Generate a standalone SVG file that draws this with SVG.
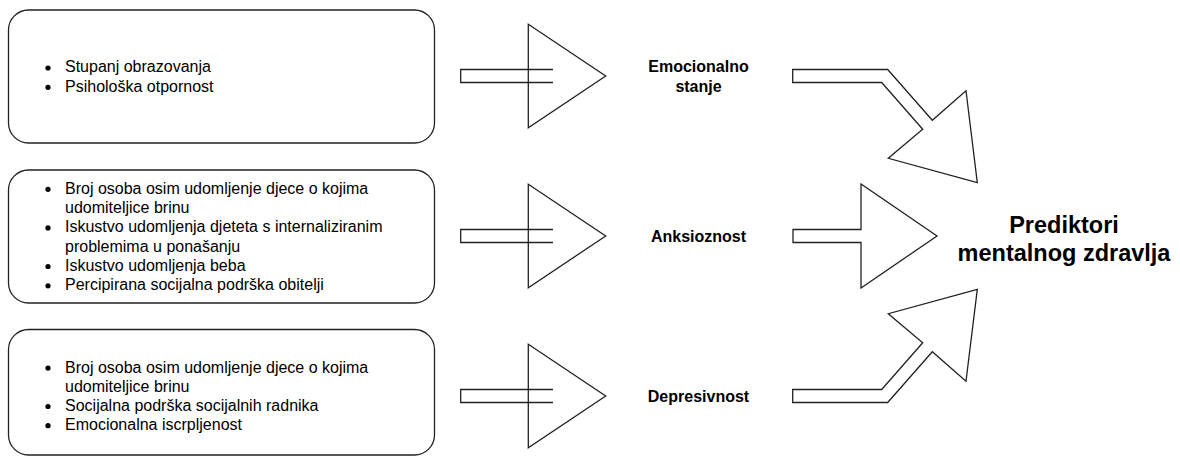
<svg xmlns="http://www.w3.org/2000/svg" width="1180" height="456" viewBox="0 0 1180 456">
<style>
.box{fill:#fff;stroke:#222;stroke-width:1.3}
.ar{fill:#fff;stroke:#222;stroke-width:1.3;stroke-linejoin:miter}
.sh{fill:none;stroke:#222;stroke-width:1.3}
.t{font-family:"Liberation Sans",Arial,Helvetica,sans-serif;font-size:16px;fill:#000}
.lb{font-family:"Liberation Sans",Arial,Helvetica,sans-serif;font-size:16px;font-weight:bold;fill:#000;text-anchor:middle}
.ti{font-family:"Liberation Sans",Arial,Helvetica,sans-serif;font-size:23.5px;font-weight:bold;fill:#000;text-anchor:middle}
.b{fill:#000}
</style>
<rect width="1180" height="456" fill="#fff"/>
<g id="box1">
<rect class="box" x="8.5" y="10" width="426" height="133" rx="20"/>
<circle class="b" cx="48" cy="68" r="2.6"/>
<circle class="b" cx="48" cy="87.3" r="2.6"/>
<text class="t" x="65" y="72.4">Stupanj obrazovanja</text>
<text class="t" x="65" y="91.7">Psihološka otpornost</text>
</g>
<g id="box2">
<rect class="box" x="8.5" y="170" width="426" height="133" rx="20"/>
<circle class="b" cx="48" cy="189.3" r="2.6"/>
<circle class="b" cx="48" cy="227.9" r="2.6"/>
<circle class="b" cx="48" cy="266.5" r="2.6"/>
<circle class="b" cx="48" cy="285.8" r="2.6"/>
<text class="t" x="65" y="193.8">Broj osoba osim udomljenje djece o kojima</text>
<text class="t" x="65" y="213.1">udomiteljice brinu</text>
<text class="t" x="65" y="232.4">Iskustvo udomljenja djeteta s internaliziranim</text>
<text class="t" x="65" y="251.7">problemima u ponašanju</text>
<text class="t" x="65" y="271">Iskustvo udomljenja beba</text>
<text class="t" x="65" y="290.3">Percipirana socijalna podrška obitelji</text>
</g>
<g id="box3">
<rect class="box" x="8.5" y="329.5" width="426" height="125.5" rx="20"/>
<circle class="b" cx="48" cy="368.1" r="2.6"/>
<circle class="b" cx="48" cy="406.5" r="2.6"/>
<circle class="b" cx="48" cy="425.7" r="2.6"/>
<text class="t" x="65" y="372.6">Broj osoba osim udomljenje djece o kojima</text>
<text class="t" x="65" y="391.8">udomiteljice brinu</text>
<text class="t" x="65" y="411">Socijalna podrška socijalnih radnika</text>
<text class="t" x="65" y="430.2">Emocionalna iscrpljenost</text>
</g>
<g id="emocionalno">
<text class="lb" x="698.5" y="72.4">Emocionalno</text>
<text class="lb" x="698.5" y="91.7">stanje</text>
</g>
<g id="anksioznost">
<text class="lb" x="698.5" y="241.8">Anksioznost</text>
</g>
<g id="depresivnost">
<text class="lb" x="698.5" y="401.8">Depresivnost</text>
</g>
<g id="prediktori">
<text class="ti" x="1064" y="232.5">Prediktori</text>
<text class="ti" x="1064" y="261">mentalnog zdravlja</text>
</g>
<g id="connectors">
<path class="ar" d="M528.3,24.3 L605.7,76 L528.3,127.7 Z"/>
<path class="sh" d="M553,69.5 H460.7 V82.5 H553"/>
<path class="ar" d="M528.3,184.3 L605.7,236 L528.3,287.7 Z"/>
<path class="sh" d="M553,229.5 H460.7 V242.5 H553"/>
<path class="ar" d="M528.3,344.3 L605.7,396 L528.3,447.7 Z"/>
<path class="sh" d="M553,389.5 H460.7 V402.5 H553"/>
<path class="ar" d="M792.7,69.5 L887.7,69.5 L932.3,120.3 L966,90.7 L977.3,182.7 L888.3,158.3 L922.7,129.3 L881.7,82.5 L792.7,82.5 Z"/>
<path class="ar" d="M793,229.5 H861 V184 L937,236 L861,288 V242.5 H793 Z"/>
<path class="ar" d="M792.7,402.5 L887.7,402.5 L932.3,351.7 L966,381.3 L977.3,289.3 L888.3,313.7 L922.7,342.7 L881.7,389.5 L792.7,389.5 Z"/>
</g>
</svg>
